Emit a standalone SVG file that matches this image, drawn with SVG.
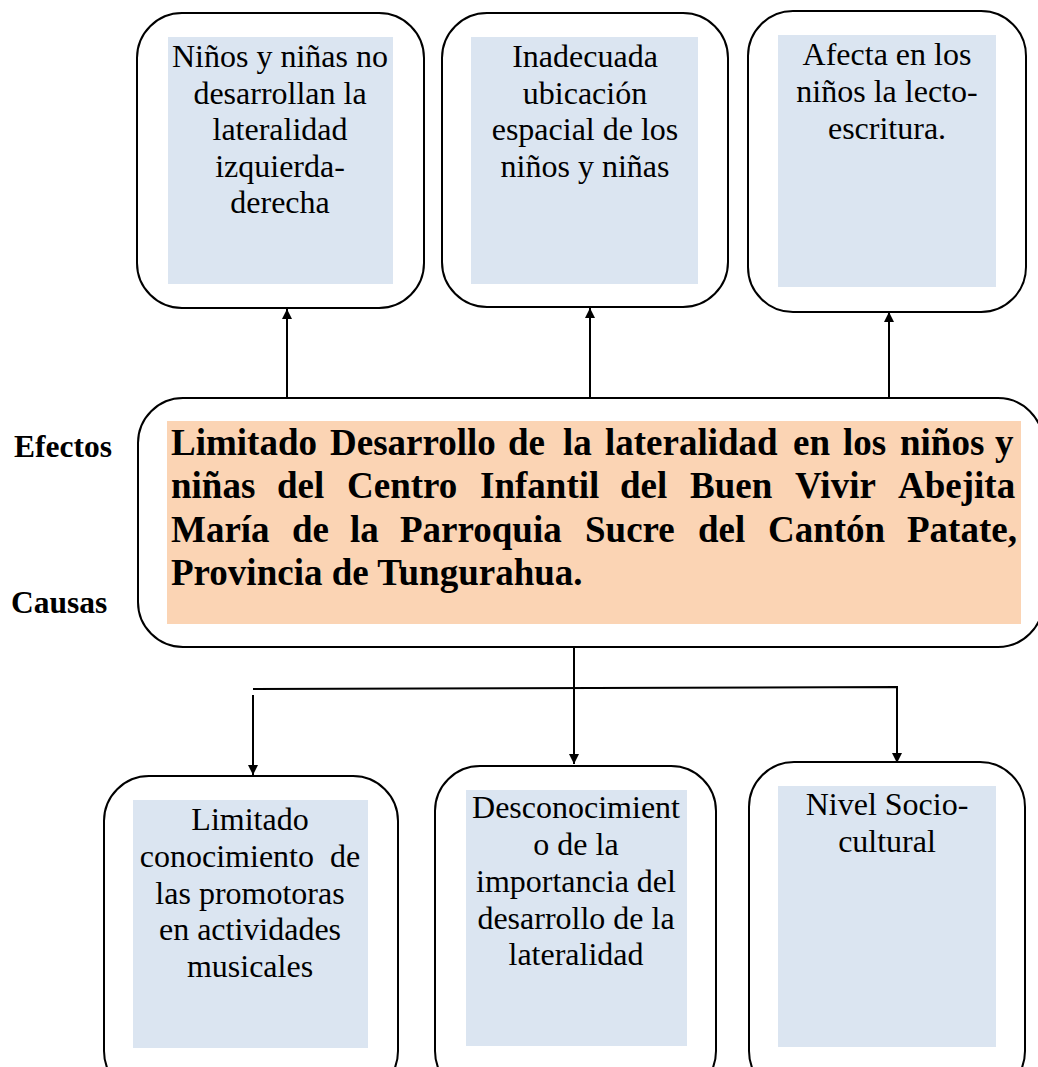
<svg xmlns="http://www.w3.org/2000/svg" width="1038" height="1067" viewBox="0 0 1038 1067">
<defs>
<style>
.box{fill:#ffffff;stroke:#000;stroke-width:2}
.inner{fill:#dbe5f1}
.core{fill:#fbd4b4}
.t{font-family:"Liberation Serif","Times New Roman",serif;font-size:32px;fill:#000;text-anchor:middle;white-space:pre}
.b{font-family:"Liberation Serif","Times New Roman",serif;font-weight:bold;fill:#000}
.c{stroke:#000;stroke-width:2;fill:none}
</style>
<marker id="ah" viewBox="0 0 10 10" refX="10" refY="5" markerWidth="10" markerHeight="10" markerUnits="userSpaceOnUse" orient="auto">
<path d="M0,0 L10,5 L0,10 z" fill="#000"/>
</marker>
</defs>
<rect width="1038" height="1067" fill="#fff"/>

<g id="efecto1">
<rect class="box" x="137" y="13" width="287" height="295" rx="45"/>
<rect class="inner" x="168" y="37" width="225" height="247"/>
<text class="t"><tspan x="280" y="67">Niños y niñas no</tspan><tspan x="280" y="104">desarrollan la</tspan><tspan x="280" y="140">lateralidad</tspan><tspan x="280" y="177">izquierda-</tspan><tspan x="280" y="213">derecha</tspan></text>
</g>
<g id="efecto2">
<rect class="box" x="442" y="13" width="286" height="294" rx="45"/>
<rect class="inner" x="471" y="37" width="227" height="247"/>
<text class="t"><tspan x="585" y="67">Inadecuada</tspan><tspan x="585" y="104">ubicación</tspan><tspan x="585" y="140">espacial de los</tspan><tspan x="585" y="177">niños y niñas</tspan></text>
</g>
<g id="efecto3">
<rect class="box" x="748" y="11" width="278" height="301" rx="45"/>
<rect class="inner" x="778" y="35" width="218" height="252"/>
<text class="t"><tspan x="887" y="65">Afecta en los</tspan><tspan x="887" y="102">niños la lecto-</tspan><tspan x="887" y="139">escritura.</tspan></text>
</g>

<g id="label-efectos"><text class="b" x="14" y="457" font-size="31.5">Efectos</text></g>
<g id="label-causas"><text class="b" x="11" y="613" font-size="31.5">Causas</text></g>

<g id="problema">
<rect class="box" x="138" y="398" width="905" height="249" rx="45"/>
<rect class="core" x="167" y="421" width="854" height="203"/>
<text class="b" font-size="37">
<tspan x="171" y="455">Limitado</tspan><tspan x="330" y="455">Desarrollo</tspan><tspan x="508" y="455">de</tspan><tspan x="563" y="455">la</tspan><tspan x="605" y="455">lateralidad</tspan><tspan x="793" y="455">en</tspan><tspan x="843" y="455">los</tspan><tspan x="900" y="455">niños</tspan><tspan x="995" y="455">y</tspan>
<tspan x="171" y="498">niñas</tspan><tspan x="277" y="498">del</tspan><tspan x="347" y="498">Centro</tspan><tspan x="480" y="498">Infantil</tspan><tspan x="620" y="498">del</tspan><tspan x="690" y="498">Buen</tspan><tspan x="795" y="498">Vivir</tspan><tspan x="898" y="498">Abejita</tspan>
<tspan x="171" y="542">María</tspan><tspan x="292" y="542">de</tspan><tspan x="350" y="542">la</tspan><tspan x="400" y="542">Parroquia</tspan><tspan x="585" y="542">Sucre</tspan><tspan x="698" y="542">del</tspan><tspan x="768" y="542">Cantón</tspan><tspan x="907" y="542">Patate,</tspan>
<tspan x="171" y="585">Provincia de Tungurahua.</tspan>
</text>
</g>

<g id="causa1">
<rect class="box" x="104" y="776" width="294" height="320" rx="45"/>
<rect class="inner" x="133" y="800" width="235" height="248"/>
<text class="t"><tspan x="250" y="830">Limitado</tspan><tspan x="250" y="867">conocimiento  de</tspan><tspan x="250" y="904">las promotoras</tspan><tspan x="250" y="940">en actividades</tspan><tspan x="250" y="977">musicales</tspan></text>
</g>
<g id="causa2">
<rect class="box" x="435" y="766" width="281" height="330" rx="45"/>
<rect class="inner" x="466" y="790" width="221" height="256"/>
<text class="t"><tspan x="576" y="818">Desconocimient</tspan><tspan x="576" y="855">o de la</tspan><tspan x="576" y="892">importancia del</tspan><tspan x="576" y="929">desarrollo de la</tspan><tspan x="576" y="965">lateralidad</tspan></text>
</g>
<g id="causa3">
<rect class="box" x="749" y="762" width="276" height="334" rx="45"/>
<rect class="inner" x="778" y="786" width="218" height="261"/>
<text class="t"><tspan x="887" y="815">Nivel Socio-</tspan><tspan x="887" y="852">cultural</tspan></text>
</g>

<g id="connectors">
<line class="c" x1="287" y1="399" x2="287" y2="309" marker-end="url(#ah)"/>
<line class="c" x1="590" y1="398" x2="590" y2="308" marker-end="url(#ah)"/>
<line class="c" x1="889" y1="398" x2="889" y2="312" marker-end="url(#ah)"/>
<line class="c" x1="574" y1="647" x2="574" y2="764" marker-end="url(#ah)"/>
<polyline class="c" points="253,689 897,687 897,763" marker-end="url(#ah)"/>
<line class="c" x1="253" y1="695" x2="253" y2="775" marker-end="url(#ah)"/>
</g>
</svg>
